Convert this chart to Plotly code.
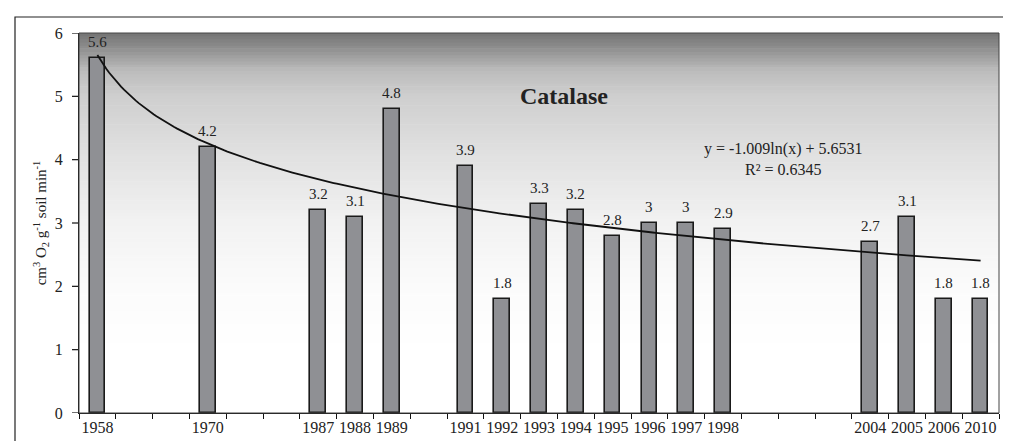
import plotly.graph_objects as go
import numpy as np

# ---- data ----
slot_labels = ["1958", "", "", "1970", "", "", "1987", "1988", "1989", "", "1991", "1992",
               "1993", "1994", "1995", "1996", "1997", "1998", "", "", "", "2004", "2005",
               "2006", "2010"]
values = [5.6, None, None, 4.2, None, None, 3.2, 3.1, 4.8, None, 3.9, 1.8,
          3.3, 3.2, 2.8, 3.0, 3.0, 2.9, None, None, None, 2.7, 3.1, 1.8, 1.8]
value_text = ["5.6", "", "", "4.2", "", "", "3.2", "3.1", "4.8", "", "3.9", "1.8",
              "3.3", "3.2", "2.8", "3", "3", "2.9", "", "", "", "2.7", "3.1", "1.8", "1.8"]
y_ticks = [0, 1, 2, 3, 4, 5, 6]
# logarithmic trend line as printed on the chart
trend_a = -1.009
trend_b = 5.6531
equation_text = "y = -1.009ln(x) + 5.6531<br>R² = 0.6345"
title_text = "<b>Catalase</b>"
y_title = "cm<sup>3</sup> O<sub>2</sub> g<sup>-1</sup> soil min<sup>-1</sup>"

n = len(slot_labels)
idx = list(range(n))
tick_idx = [i for i, s in enumerate(slot_labels) if s]
tick_txt = [slot_labels[i] for i in tick_idx]

FONT = "Liberation Serif, Times New Roman, serif"

fig = go.Figure()

fig.add_trace(go.Bar(
    x=idx, y=values, width=0.42,
    marker=dict(color="#8f9094", line=dict(color="#1a1a1a", width=1.6)),
    hoverinfo="x+y", showlegend=False,
))

xt = np.linspace(1, n, 300)
fig.add_trace(go.Scatter(
    x=xt - 1, y=trend_a * np.log(xt) + trend_b, mode="lines",
    line=dict(color="#111", width=1.8), showlegend=False, hoverinfo="skip",
))

annotations = []
for i, (v, t) in enumerate(zip(values, value_text)):
    if v is None:
        continue
    annotations.append(dict(x=i, y=v, xref="x", yref="y", text=t, showarrow=False,
                            yanchor="bottom", yshift=6,
                            font=dict(family=FONT, size=15, color="#222")))

L, R, T, B = 71, 991, 25, 405
pw, ph = R - L, B - T

# gradient background (style only)
stops_v = [0, 1, 2, 3, 4, 5, 5.4, 5.7, 6]
stops_g = [255, 255, 251, 242, 226, 207, 188, 150, 115]
shapes = []
nb = 120
for k in range(nb):
    y0 = 6 * k / nb
    y1 = 6 * (k + 1) / nb
    g = int(round(np.interp((y0 + y1) / 2, stops_v, stops_g)))
    shapes.append(dict(type="rect", xref="paper", yref="y", x0=0, x1=1, y0=y0, y1=y1 + 0.01,
                       fillcolor=f"rgb({g},{g},{g})", line=dict(width=0), layer="below"))
# y-axis tick marks (outside)
for v in y_ticks:
    shapes.append(dict(type="line", xref="paper", yref="y", x0=-7 / pw, x1=0, y0=v, y1=v,
                       line=dict(color="#111", width=1.2), layer="above"))
# plot-area border (right/top)
shapes.append(dict(type="rect", xref="paper", yref="paper", x0=0, x1=1, y0=0, y1=1,
                   line=dict(color="#444", width=1), layer="above"))
# outer chart border
shapes.append(dict(type="rect", xref="paper", yref="paper",
                   x0=(7 - L) / pw, x1=(1030 - L) / pw,
                   y0=(B - 460) / ph, y1=(B - 9) / ph,
                   line=dict(color="#222", width=1.2), layer="above"))

annotations += [
    dict(x=12.68, y=5.0, xref="x", yref="y", text=title_text, showarrow=False,
         font=dict(family=FONT, size=24, color="#222")),
    dict(x=18.63, y=4.01, xref="x", yref="y", text=equation_text, showarrow=False,
         align="center", font=dict(family=FONT, size=16, color="#222")),
]

fig.update_layout(
    width=1011, height=441,
    margin=dict(l=L, r=1011 - R, t=T, b=441 - B),
    paper_bgcolor="white", plot_bgcolor="white",
    font=dict(family=FONT, size=14, color="#222"),
    bargap=0,
    shapes=shapes,
    xaxis=dict(
        range=[-0.5, n - 0.5], tickmode="array", tickvals=tick_idx, ticktext=tick_txt,
        ticks="", showgrid=False, zeroline=False, showline=True, linecolor="#111", linewidth=1.2,
        tickfont=dict(family=FONT, size=16, color="#222"),
        minor=dict(tickmode="array", tickvals=[i - 0.5 for i in range(n + 1)],
                   ticks="outside", ticklen=5, tickcolor="#111", tickwidth=1, showgrid=False),
    ),
    yaxis=dict(
        range=[0, 6], tickmode="array", tickvals=y_ticks, ticks="",
        showgrid=False, zeroline=False, showline=True,
        linecolor="#111", linewidth=1.2, tickfont=dict(family=FONT, size=16, color="#222"),
        ticklabelstandoff=12,
        title=dict(text=y_title, font=dict(family=FONT, size=15, color="#222"), standoff=4),
    ),
    annotations=annotations,
)

fig.write_html("out.html")
